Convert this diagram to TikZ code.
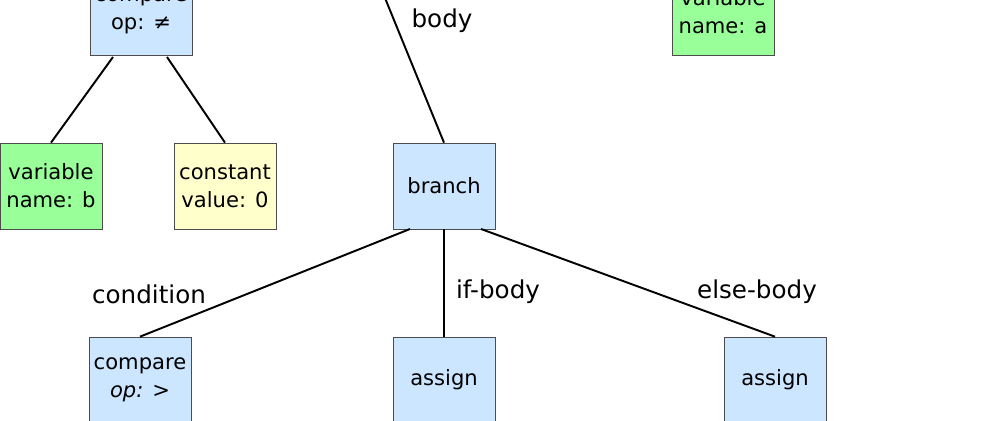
\documentclass[tikz,border=0pt]{standalone}
\usepackage{fontspec}
\setmainfont{DejaVu Sans}
\usetikzlibrary{positioning}

\definecolor{stmtblue}{HTML}{CCE6FF}
\definecolor{vargreen}{HTML}{99FF99}
\definecolor{constyellow}{HTML}{FFFFCC}

\begin{document}
\begin{tikzpicture}[x=0.02cm,y=-0.02cm]
\tikzstyle{box}=[draw=black!70, align=center, minimum width=2.04cm, minimum height=1.72cm, inner sep=1pt, font=\fontsize{12}{16}\selectfont]
\tikzstyle{edge}=[line width=1.1pt, black]
\tikzstyle{lbl}=[font=\fontsize{14}{16}\selectfont]
\useasboundingbox (0,0) rectangle (1000,420);
\clip (0,0) rectangle (1000,420);

% upper row (cut by the frame)
\node[box, fill=stmtblue] (cmpne) at (141,12) {compare \\ op: ≠};
\node[box, fill=vargreen] (vara) at (723,12) {variable \\ name: a};
\coordinate (bodytop) at (385,-2);

% middle row
\node[box, fill=vargreen] (varb) at (51,186) {variable \\ name: b};
\node[box, fill=constyellow] (const) at (225,186) {constant \\ value: 0};
\node[box, fill=stmtblue] (branch) at (444,186) {branch};

% lower row
\node[box, fill=stmtblue] (cmpgt) at (140,380) {compare \\ \textit{op:} >};
\node[box, fill=stmtblue] (asgn1) at (444,380) {assign};
\node[box, fill=stmtblue] (asgn2) at (775,380) {assign};

\draw[edge] (113,57) -- (varb.north);
\draw[edge] (167,57) -- (const.north);
\draw[edge] (bodytop) -- (branch.north);
\node[lbl] at (442,21) {body};

\draw[edge] (410,229) -- (cmpgt.north);
\draw[edge] (branch.south) -- (asgn1.north);
\draw[edge] (481,229) -- (asgn2.north);
\node[lbl] at (149,294) {condition};
\node[lbl] at (498,292) {if-body};
\node[lbl] at (757,292) {else-body};
\end{tikzpicture}
\end{document}
